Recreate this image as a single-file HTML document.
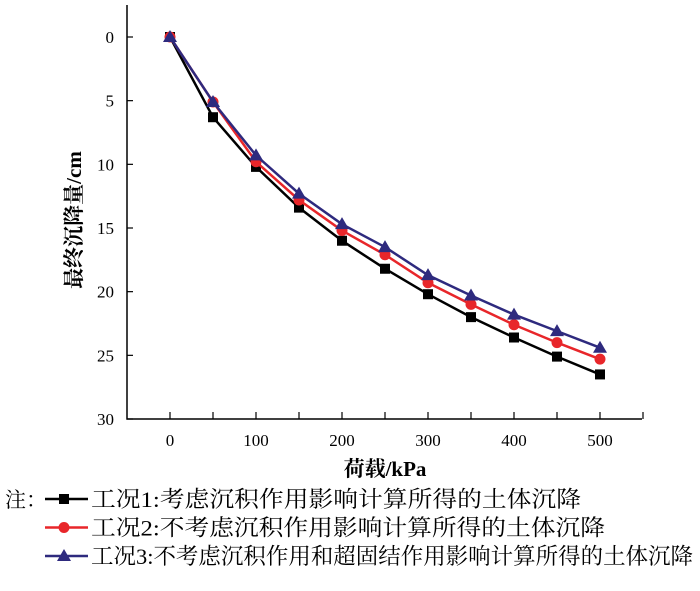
<!DOCTYPE html>
<html><head><meta charset="utf-8"><style>
body{margin:0;background:#fff;width:700px;height:586px;overflow:hidden}
text{font-family:"Liberation Serif","Noto Serif CJK SC",serif}
</style></head><body>
<svg id="c" width="700" height="586"></svg>
<script>
const loads=[0,50,100,150,200,250,300,350,400,450,500];
const case1=[0,6.3,10.2,13.4,16.0,18.2,20.2,22.0,23.6,25.1,26.5];
const case2=[0,5.1,9.8,12.8,15.2,17.1,19.3,21.0,22.6,24.0,25.3];
const case3=[0,5.1,9.3,12.3,14.7,16.5,18.7,20.3,21.8,23.1,24.4];
const xTicks=[0,100,200,300,400,500];
const yTicks=[0,5,10,15,20,25,30];
const legendLabels=["工况1:考虑沉积作用影响计算所得的土体沉降","工况2:不考虑沉积作用影响计算所得的土体沉降","工况3:不考虑沉积作用和超固结作用影响计算所得的土体沉降"];
const legendWidths=[490,514,602];
const NS="http://www.w3.org/2000/svg";
const svg=document.getElementById('c');
function X(v){return 170+v*(600-170)/500;}
function Y(v){return 37+v*(419-37)/30;}
function mk(t,a,p){const e=document.createElementNS(NS,t);for(const k in a)e.setAttribute(k,a[k]);(p||svg).appendChild(e);return e;}
let ax=mk('path',{d:`M127,5 V419 H642`,stroke:'#000','stroke-width':1.5,fill:'none'});


yTicks.forEach(v=>{
  const t=mk('line',{x1:127,x2:133,y1:Y(v),y2:Y(v),stroke:'#000','stroke-width':1.2});
  
  
  const l=mk('text',{x:114,y:Y(v)+6,'text-anchor':'end','font-size':17});
  
  
  l.textContent=v;
});
[0,50,100,150,200,250,300,350,400,450,500,550].forEach(v=>{
  const t=mk('line',{x1:X(v),x2:X(v),y1:419,y2:412,stroke:'#000','stroke-width':1.2});
  
  
});
xTicks.forEach(v=>{
  const l=mk('text',{x:X(v),y:446,'text-anchor':'middle','font-size':17});
  
  
  l.textContent=v;
});
let xt=mk('text',{x:385,y:476,'text-anchor':'middle','font-size':21,'font-weight':'bold'});


xt.textContent='荷载/kPa';
let yt=mk('text',{x:0,y:0,'text-anchor':'middle','font-size':21,'font-weight':'bold',transform:'translate(81,220) rotate(-90)'});


yt.textContent='最终沉降量/cm';
const series=[[case1,'#000','square'],[case2,'#e8262a','circle'],[case3,'#2e2a7e','triangle']];
function marker(kind,x,y,col,g){
  let m;
  if(kind==='square')m=mk('rect',{x:x-5,y:y-5,width:10,height:10,fill:col},g);
  else if(kind==='circle')m=mk('circle',{cx:x,cy:y,r:5.5,fill:col},g);
  else m=mk('polygon',{points:`${x},${y-7} ${x+7},${y+5} ${x-7},${y+5}`,fill:col},g);
  
  
}
series.forEach(([d,col,kind],si)=>{
  const g=mk('g',{});
  
  
  const p=mk('polyline',{points:loads.map((v,i)=>X(v)+','+Y(d[i])).join(' '),fill:'none',stroke:col,'stroke-width':2.5},g);
  
  
  loads.forEach((v,i)=>marker(kind,X(v),Y(d[i]),col,g));
  const ly=499+si*28.5;
  const lg=mk('g',{});
  
  
  const ll=mk('line',{x1:45,x2:88,y1:ly,y2:ly,stroke:col,'stroke-width':2.5},lg);
  
  
  marker(kind,64,ly,col,lg);
  const lt=mk('text',{x:91,y:ly+8,'font-size':22.5,textLength:legendWidths[si],lengthAdjust:'spacingAndGlyphs'},lg);
  
  
  lt.textContent=legendLabels[si];
});
let note=mk('text',{x:5,y:507,'font-size':21});


note.textContent='注：';
</script>
</body></html>
